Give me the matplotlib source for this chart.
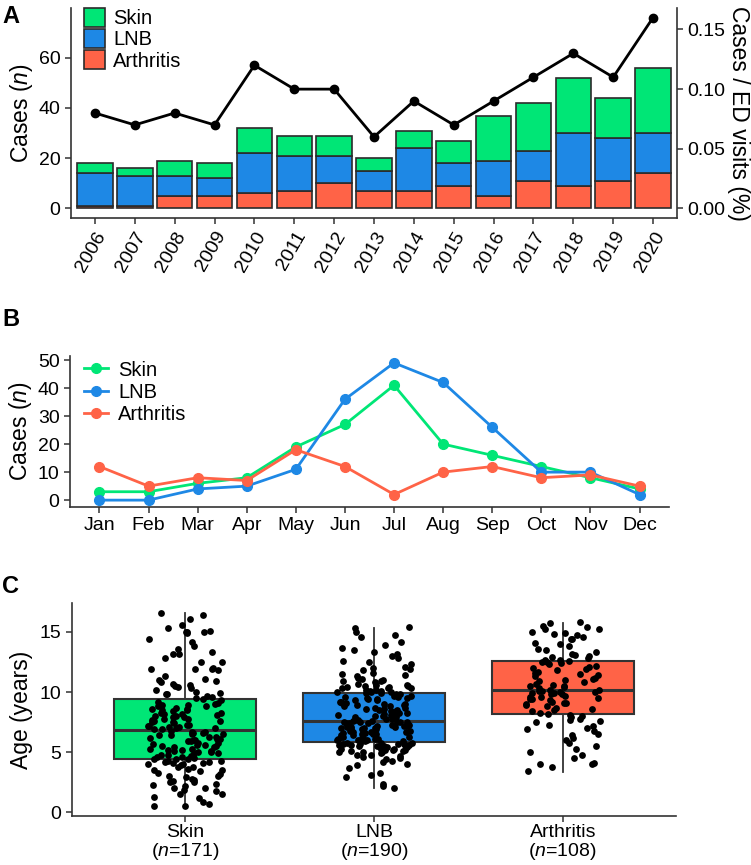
import numpy as np
import matplotlib
matplotlib.use("Agg")
import matplotlib.pyplot as plt
from matplotlib.patches import Patch
from matplotlib.lines import Line2D

plt.rcParams["font.family"] = ["Liberation Sans", "DejaVu Sans"]
plt.rcParams["mathtext.fontset"] = "custom"
plt.rcParams["mathtext.rm"] = "Liberation Sans"
plt.rcParams["mathtext.it"] = "Liberation Sans:italic"

# ---- data ----
groups = ["Skin", "LNB", "Arthritis"]
colors = ["#00E676", "#1E88E5", "#FF6347"]

years = [str(y) for y in range(2006, 2021)]
arthritis_year = [1, 1, 5, 5, 6, 7, 10, 7, 7, 9, 5, 11, 9, 11, 14]
lnb_year = [13, 12, 8, 7, 16, 14, 11, 8, 17, 9, 14, 12, 21, 17, 16]
skin_year = [4, 3, 6, 6, 10, 8, 8, 5, 7, 9, 18, 19, 22, 16, 26]
ed_ratio = [0.08, 0.07, 0.08, 0.07, 0.12, 0.10, 0.10, 0.06, 0.09, 0.07,
            0.09, 0.11, 0.13, 0.11, 0.16]

months = ["Jan", "Feb", "Mar", "Apr", "May", "Jun", "Jul", "Aug", "Sep",
          "Oct", "Nov", "Dec"]
skin_month = [3, 3, 6, 8, 19, 27, 41, 20, 16, 12, 8, 4]
lnb_month = [0, 0, 4, 5, 11, 36, 49, 42, 26, 10, 10, 2]
arthritis_month = [12, 5, 8, 7, 18, 12, 2, 10, 12, 8, 9, 5]

n_counts = [171, 190, 108]
# box stats: whislo, q1, median, q3, whishi
box_whislo = [0.52, 2.04, 3.37]
box_q1 = [4.47, 5.82, 8.16]
box_med = [6.81, 7.58, 10.15]
box_q3 = [9.43, 9.95, 12.57]
box_whishi = [16.57, 15.36, 15.77]

skin_age = [
    16.6, 16.4, 16.1, 15.6, 15.3, 15.1, 15.0, 15.0, 15.0, 14.9, 14.4, 14.2,
    13.8, 13.6, 13.3, 13.2, 13.2, 12.8, 12.5, 12.5, 12.0, 11.9, 11.9, 11.9,
    11.8, 11.3, 11.1, 11.0, 10.9, 10.8, 10.7, 10.6, 10.5, 10.4, 10.3, 10.2,
    10.0, 9.9, 9.8, 9.8, 9.7, 9.6, 9.5,
    0.5, 0.5, 0.7, 0.9, 1.3, 1.5, 1.5, 1.8, 1.9, 2.0, 2.2, 2.3, 2.4, 2.5,
    2.6, 2.7, 2.8, 2.9, 3.0, 3.0, 3.2, 3.3, 3.4, 3.5, 3.5, 3.6, 3.8, 3.8,
    3.9, 4.0, 4.0, 4.1, 4.1, 4.2, 4.2, 4.3, 4.3, 4.4, 4.4, 4.4, 1.2, 2.0, 2.5,
    4.5, 4.6, 4.6, 4.7, 4.8, 4.8, 4.9, 4.9, 5.0, 5.0, 5.1, 5.1, 5.2, 5.2,
    5.3, 5.3, 5.4, 5.4, 5.5, 5.5, 5.6, 5.6, 5.7, 5.8, 5.8, 5.9, 5.9, 6.0,
    6.0, 6.1, 6.1, 6.2, 6.3, 6.3, 6.4, 6.4, 6.5, 6.5, 6.6, 6.6, 6.7, 6.7,
    6.8,
    6.9, 6.9, 7.0, 7.0, 7.1, 7.1, 7.2, 7.2, 7.3, 7.3, 7.4, 7.5, 7.5, 7.6,
    7.6, 7.7, 7.8, 7.8, 7.9, 7.9, 8.0, 8.0, 8.1, 8.2, 8.2, 8.3, 8.3, 8.4,
    8.5, 8.5, 8.6, 8.6, 8.7, 8.8, 8.8, 8.9, 8.9, 9.0, 9.1, 9.2, 9.3, 9.4,
]
lnb_age = [
    15.4, 15.3, 15.0, 14.7, 14.2, 13.9, 13.7, 13.3, 13.2, 13.0, 12.6, 12.5,
    12.3, 12.1, 12.0, 11.8, 11.6, 11.5, 11.4, 11.2, 11.1, 11.0, 10.9, 10.8,
    10.7, 10.6, 10.5, 10.4, 10.4, 10.3, 10.3, 10.2, 10.2, 10.1, 10.1, 10.0,
    10.0, 10.0, 14.6, 13.5, 12.8, 11.9, 11.3, 10.9, 10.6, 10.5, 10.3,
    2.0, 2.2, 2.4, 2.9, 3.1, 3.3, 3.7, 3.9, 4.0, 4.2, 4.4, 4.5, 4.6, 4.7,
    4.8, 4.8, 4.9, 5.0, 5.0, 5.1, 5.1, 5.2, 5.2, 5.3, 5.3, 5.4, 5.4, 5.4,
    5.5, 5.5, 5.5, 5.6, 5.6, 5.6, 5.7, 5.7, 5.7, 5.8, 5.8, 5.8, 4.3, 5.0,
    5.2, 5.3, 5.5, 5.6, 5.7,
    5.9, 5.9, 6.0, 6.0, 6.0, 6.1, 6.1, 6.1, 6.2, 6.2, 6.3, 6.3, 6.3, 6.4,
    6.4, 6.5, 6.5, 6.5, 6.6, 6.6, 6.7, 6.7, 6.7, 6.8, 6.8, 6.9, 6.9, 6.9,
    7.0, 7.0, 7.0, 7.1, 7.1, 7.1, 7.2, 7.2, 7.2, 7.3, 7.3, 7.3, 7.4, 7.4,
    7.4, 7.5, 7.5, 7.5, 7.5, 7.5,
    7.6, 7.6, 7.7, 7.7, 7.8, 7.8, 7.9, 7.9, 8.0, 8.0, 8.1, 8.1, 8.2, 8.2,
    8.3, 8.3, 8.4, 8.4, 8.5, 8.5, 8.6, 8.6, 8.7, 8.7, 8.8, 8.8, 8.9, 8.9,
    9.0, 9.0, 9.1, 9.1, 9.2, 9.2, 9.3, 9.3, 9.4, 9.4, 9.5, 9.5, 9.6, 9.6,
    9.7, 9.7, 9.8, 9.8, 9.9, 9.9,
]
arthritis_age = [
    15.8, 15.7, 15.5, 15.4, 15.2, 15.2, 15.0, 14.9, 14.8, 14.7, 14.6, 14.4,
    14.4, 14.1, 14.0, 13.8, 13.6, 13.5, 13.3, 13.2, 13.1, 13.0, 12.9, 12.8,
    12.7, 12.7, 12.6,
    3.4, 3.8, 4.0, 4.0, 4.1, 4.5, 4.8, 5.0, 5.3, 5.5, 5.8, 6.0, 6.2, 6.4,
    6.5, 6.8, 6.9, 7.0, 7.2, 7.3, 7.5, 7.6, 7.7, 7.8, 7.9, 8.0, 8.1,
    8.2, 8.3, 8.4, 8.5, 8.6, 8.7, 8.8, 8.9, 9.0, 9.1, 9.1, 9.2, 9.3, 9.4,
    9.4, 9.5, 9.6, 9.6, 9.7, 9.8, 9.8, 9.9, 9.9, 10.0, 10.0, 10.1, 10.1,
    10.2, 10.2, 10.3, 10.4, 10.5, 10.5, 10.6, 10.7, 10.8, 10.9, 11.0, 11.1,
    11.2, 11.3, 11.4, 11.5, 11.6, 11.7, 11.8, 11.9, 12.0, 12.1, 12.2, 12.3,
    12.4, 12.5, 12.5,
]

# ---- styling ----
W, H = 751, 865
spine_c = "#333333"
TICK = 14
TITLE = 16.5
LEG = 14.5


def px_axes(fig, left, top, right, bottom):
    return fig.add_axes([left / W, 1 - bottom / H, (right - left) / W, (bottom - top) / H])


def classic(ax):
    for s in ["top", "right"]:
        ax.spines[s].set_visible(False)
    for s in ["left", "bottom"]:
        ax.spines[s].set_color(spine_c)
        ax.spines[s].set_linewidth(1.2)
    ax.tick_params(colors=spine_c, labelcolor="black", labelsize=TICK,
                   length=4, width=1.1)


fig = plt.figure(figsize=(W / 100, H / 100), dpi=100)

# ---- panel A ----
axA = px_axes(fig, 71, 8, 677, 218)
classic(axA)
x = np.arange(len(years))
bw = 0.89
ec = "#2b2b2b"
axA.bar(x, arthritis_year, bw, color=colors[2], edgecolor=ec, lw=1.2, zorder=2)
axA.bar(x, lnb_year, bw, bottom=arthritis_year, color=colors[1], edgecolor=ec, lw=1.2, zorder=2)
base2 = np.array(arthritis_year) + np.array(lnb_year)
axA.bar(x, skin_year, bw, bottom=base2, color=colors[0], edgecolor=ec, lw=1.2, zorder=2)
axA.set_xlim(-0.6, 14.6)
axA.set_ylim(-3.8, 79.8)
axA.set_yticks([0, 20, 40, 60])
axA.set_xticks(x)
axA.set_xticklabels(years, rotation=60, ha="right", va="top", rotation_mode="anchor")
axA.set_ylabel("Cases ($\\it{n}$)", fontsize=TITLE, labelpad=3)

k = 0.16 / 76
axR = axA.twinx()
axR.set_ylim(-3.8 * k, 79.8 * k)
axR.spines["right"].set_color(spine_c)
axR.spines["right"].set_linewidth(1.2)
for s in ["top", "left", "bottom"]:
    axR.spines[s].set_visible(False)
axR.tick_params(colors=spine_c, labelcolor="black", labelsize=TICK, length=4, width=1.1)
axR.set_yticks([0.0, 0.05, 0.10, 0.15])
axR.set_yticklabels(["0.00", "0.05", "0.10", "0.15"])
axR.plot(x, ed_ratio, color="black", lw=2, marker="o", ms=6, zorder=3)
axR.set_ylabel("Cases / ED visits (%)", fontsize=TITLE, rotation=270, labelpad=18)

handlesA = [Patch(facecolor=colors[i], edgecolor=ec, lw=1.2) for i in range(3)]
axA.legend(handlesA, groups, loc="upper left", bbox_to_anchor=(13 / 606, 1.0),
           frameon=False, fontsize=LEG, handlelength=1.05, handleheight=1.05,
           labelspacing=0.05, handletextpad=0.4, borderpad=0, borderaxespad=0)

# ---- panel B ----
axB = px_axes(fig, 70, 356, 669, 507)
classic(axB)
m = np.arange(len(months))
for vals, c in [(skin_month, colors[0]), (lnb_month, colors[1]), (arthritis_month, colors[2])]:
    axB.plot(m, vals, color=c, lw=2, marker="o", ms=7, zorder=3)
axB.set_xlim(-0.6, 11.6)
axB.set_ylim(-2.45, 51.45)
axB.set_yticks([0, 10, 20, 30, 40, 50])
axB.set_xticks(m)
axB.set_xticklabels(months)
axB.set_ylabel("Cases ($\\it{n}$)", fontsize=TITLE, labelpad=3)
handlesB = [Line2D([0], [0], color=colors[i], lw=2, marker="o", ms=7) for i in range(3)]
axB.legend(handlesB, groups, loc="upper left", bbox_to_anchor=(14 / 599, 0.97),
           frameon=False, fontsize=LEG, handlelength=1.2, labelspacing=0.15,
           handletextpad=0.5, borderpad=0, borderaxespad=0)

# ---- panel C ----
axC = px_axes(fig, 72, 603, 676, 816)
classic(axC)
stats = []
for i in range(3):
    stats.append(dict(med=box_med[i], q1=box_q1[i], q3=box_q3[i],
                      whislo=box_whislo[i], whishi=box_whishi[i], fliers=[]))
bp = axC.bxp(stats, positions=[0, 1, 2], widths=0.75, patch_artist=True,
             showcaps=False, showfliers=False,
             boxprops=dict(edgecolor=spine_c, lw=1.5),
             medianprops=dict(color=spine_c, lw=2.2),
             whiskerprops=dict(color=spine_c, lw=1.3))
for patch, c in zip(bp["boxes"], colors):
    patch.set_facecolor(c)
for i, ages in enumerate([skin_age, lnb_age, arthritis_age]):
    ages = np.array(ages)
    idx = np.arange(len(ages)) + 37 * i
    # deterministic scatter-like jitter (no random numbers)
    frac = (np.sin(idx * 12.9898 + 78.233) * 43758.5453) % 1
    jit = (frac - 0.5) * 0.4
    axC.scatter(i + jit, ages, s=24, color="black", zorder=4, linewidths=0)
axC.set_xlim(-0.6, 2.6)
axC.set_ylim(-0.3, 17.4)
axC.set_yticks([0, 5, 10, 15])
axC.set_xticks([0, 1, 2])
axC.set_xticklabels([f"{g}\n($\\it{{n}}$={n})" for g, n in zip(groups, n_counts)],
                    fontsize=14, linespacing=0.95)
axC.tick_params(axis="x", pad=2)
axC.set_ylabel("Age (years)", fontsize=TITLE, labelpad=5)

# panel letters
for lab, yy in [("A", 5), ("B", 308), ("C", 575)]:
    fig.text(2 / W, 1 - yy / H, lab, fontsize=17, fontweight="bold", va="top", ha="left")

fig.savefig("out.png", dpi=100)
